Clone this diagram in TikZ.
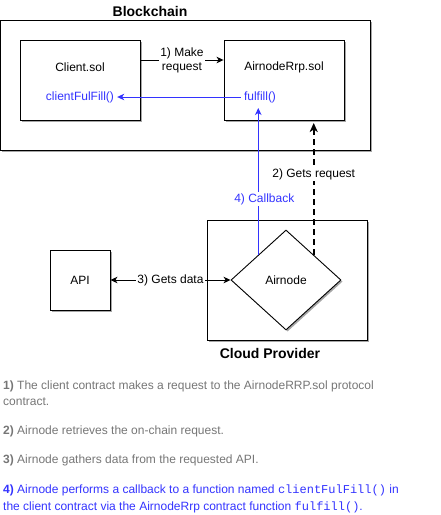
\documentclass[tikz,border=0pt]{standalone}
\usepackage{fontspec}
\setmainfont{Liberation Sans}
\setmonofont{Liberation Mono}
\usetikzlibrary{arrows.meta,shapes.geometric,shadows}
\definecolor{cbblue}{HTML}{3333FF}
\definecolor{notegray}{HTML}{767676}
\begin{document}
\begin{tikzpicture}[x=1pt,y=-1pt,
  every node/.style={font=\fontsize{12}{14}\selectfont, inner sep=1pt},
  shad/.style={drop shadow={shadow xshift=1.6pt,shadow yshift=-1.6pt,fill=black!35,opacity=1}},
  box/.style={draw,line width=0.9pt,fill=white,shad,inner sep=0pt},
  title/.style={font=\fontsize{14}{16}\selectfont\bfseries},
  lbl/.style={fill=white,inner sep=1pt,align=center},
  fn/.style={text=cbblue,inner sep=3pt},
  arr/.style={line width=0.9pt,-{Stealth[length=7pt,width=6.5pt,inset=2pt]}},
  dbl/.style={line width=0.9pt,{Stealth[length=7pt,width=6.5pt,inset=2pt]}-{Stealth[length=7pt,width=6.5pt,inset=2pt]}},
  dasharr/.style={line width=2pt,dash pattern=on 6pt off 4pt,-{Stealth[length=9pt,width=8pt,inset=2.5pt]}},
  para/.style={text=notegray,inner sep=0pt,anchor=base west}
]
\useasboundingbox (0,0) rectangle (441,515);

% containers
\node[box,minimum width=369.5pt,minimum height=130pt] (bc) at (185.25,85) {};
\node[title] (bctitle) at (150,11) {Blockchain};
\node[box,minimum width=160pt,minimum height=120pt] (cloud) at (287,280) {};
\node[title] (cloudtitle) at (270,353) {Cloud Provider};

% inner nodes
\node[box,minimum width=120pt,minimum height=80pt] (client) at (80,80) {};
\node (clientlbl) at (80,67) {Client.sol};
\node[fn] (cff) at (80,97) {clientFulFill()};
\node[box,minimum width=120pt,minimum height=80pt] (rrp) at (284,80) {};
\node (rrplbl) at (284,67) {AirnodeRrp.sol};
\node[fn] (ff) at (260,97) {fulfill()};
\node[box,minimum width=60pt,minimum height=60pt] (api) at (80,280) {API};
\node[box,diamond,minimum width=110pt,minimum height=100pt] (airnode) at (286,280) {Airnode};

\coordinate (cbend) at (airnode.north west |- 0,108);
\coordinate (reqend) at (airnode.north east |- 0,123);

% connectors
\draw[arr] ([yshift=20pt]client.east) -- node[lbl]{1) Make\\request} ([yshift=20pt]rrp.west);
\draw[arr,cbblue] (ff.west) -- (cff.east);
\draw[dbl] (airnode.west) -- node[lbl]{3) Gets data} (api.east);
\draw[arr,cbblue] (airnode.north west) -- node[lbl,text=cbblue,pos=0.38,xshift=6pt]{4) Callback} (cbend);
\draw[dasharr] (airnode.north east) -- node[lbl,pos=0.61]{2) Gets request} (reqend);

% notes
\node[para] (t1a) at (3,389) {\textbf{1)} The client contract makes a request to the AirnodeRRP.sol protocol};
\node[para] (t1b) at (3,405) {contract.};
\node[para] (t2) at (3,434) {\textbf{2)} Airnode retrieves the on-chain request.};
\node[para] (t3) at (3,463) {\textbf{3)} Airnode gathers data from the requested API.};
\node[para,text=cbblue] (t4a) at (3,493) {\textbf{4)} Airnode performs a callback to a function named \texttt{clientFulFill()} in};
\node[para,text=cbblue] (t4b) at (3,510) {the client contract via the AirnodeRrp contract function \texttt{fulfill()}.};
\end{tikzpicture}
\end{document}
